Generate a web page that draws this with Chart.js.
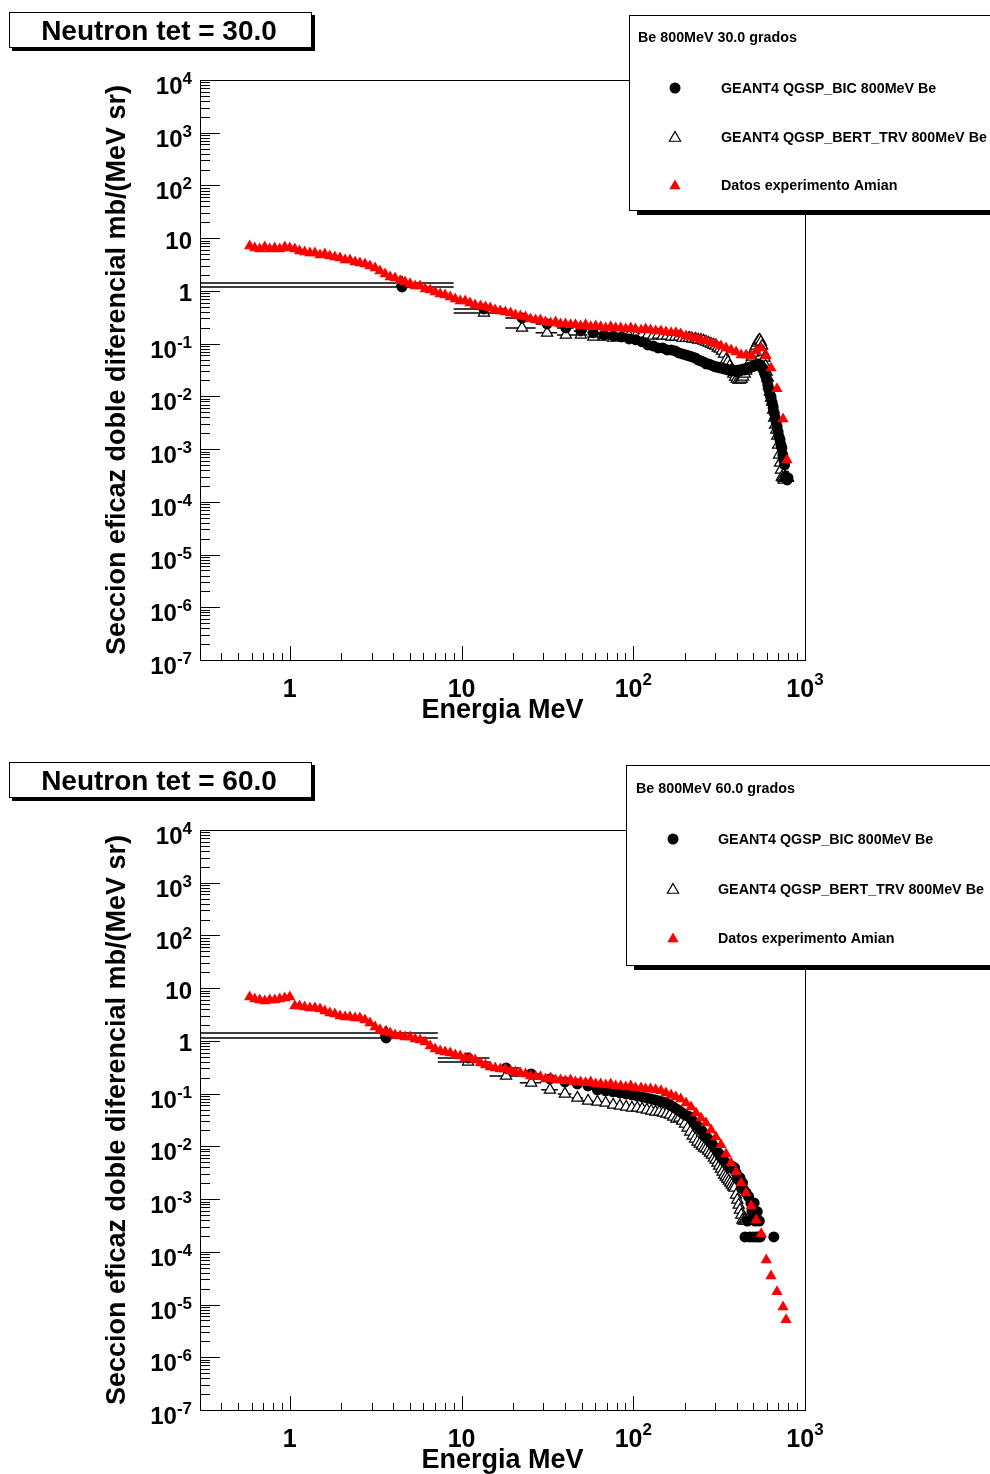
<!DOCTYPE html>
<html>
<head>
<meta charset="utf-8">
<title>Neutron tet</title>
<script src="https://cdn.jsdelivr.net/npm/chart.js@4.4.1/dist/chart.umd.min.js"></script>
<style>
  html, body { margin: 0; padding: 0; background: #fff; }
  canvas { display: block; }
</style>
</head>
<body>
<canvas id="chart-30" width="990" height="750"></canvas>
<canvas id="chart-60" width="990" height="724"></canvas>
<script>
// Amian experimental data, 30 deg (MeV, mb/(MeV sr))
const amianE30 = [0.584, 0.625, 0.668, 0.715, 0.764, 0.817, 0.874, 0.935, 1.0, 1.07, 1.14, 1.22, 1.31, 1.40, 1.50, 1.60, 1.71, 1.83, 1.96, 2.10,
  2.24, 2.40, 2.56, 2.74, 2.93, 3.14, 3.35, 3.59, 3.84, 4.10, 4.39, 4.69, 5.02, 5.37, 5.74, 6.14, 6.57, 7.02, 7.51, 8.03,
  8.59, 9.19, 9.83, 10.5, 11.2, 12.0, 12.9, 13.8, 14.7, 15.7, 16.8, 18.0, 19.3, 20.6, 22.0, 23.6, 25.2, 27.0, 28.8, 30.8,
  33.0, 35.3, 37.7, 40.3, 43.1, 46.1, 49.3, 52.8, 56.5, 60.4, 64.6, 69.1, 73.9, 79.0, 84.5, 90.4, 96.7, 103, 111, 118,
  126, 135, 145, 155, 166, 177, 189, 203, 217, 232, 248, 265, 284, 303, 324, 347, 371, 397, 425, 454,
  486, 520, 556, 595, 634, 687, 745, 786];
const amian30 = [7.14, 6.54, 6.26, 6.83, 6.26, 6.54, 6.26, 6.83, 6.54, 6.26, 5.74, 5.49, 5.26, 5.26, 4.82, 5.03, 4.61, 4.41, 4.23, 3.87,
  3.87, 3.55, 3.40, 3.25, 2.98, 2.73, 2.39, 2.10, 1.84, 1.76, 1.55, 1.48, 1.36, 1.24, 1.24, 1.09, 1.04, 0.957, 0.877, 0.840,
  0.770, 0.705, 0.646, 0.646, 0.592, 0.543, 0.519, 0.497, 0.476, 0.436, 0.418, 0.400, 0.383, 0.351, 0.336, 0.321, 0.294, 0.282, 0.282, 0.258,
  0.247, 0.258, 0.237, 0.237, 0.227, 0.227, 0.217, 0.227, 0.208, 0.217, 0.208, 0.199, 0.208, 0.199, 0.199, 0.190, 0.199, 0.190, 0.182, 0.190,
  0.182, 0.174, 0.174, 0.167, 0.160, 0.160, 0.153, 0.140, 0.134, 0.128, 0.118, 0.113, 0.103, 0.0988, 0.0906, 0.0830, 0.0760, 0.0697, 0.0611, 0.0611,
  0.0585, 0.0728, 0.0830, 0.0585, 0.0346, 0.0139, 0.00374, 0.000623];

// Amian experimental data, 60 deg
const amianE60 = [0.584, 0.625, 0.668, 0.715, 0.764, 0.817, 0.874, 0.935, 1.0, 1.07, 1.14, 1.22, 1.31, 1.40, 1.50, 1.60, 1.71, 1.83, 1.96, 2.10,
  2.24, 2.40, 2.56, 2.74, 2.93, 3.14, 3.35, 3.59, 3.84, 4.10, 4.39, 4.69, 5.02, 5.37, 5.74, 6.14, 6.57, 7.02, 7.51, 8.03,
  8.59, 9.19, 9.83, 10.5, 11.2, 12.0, 12.9, 13.8, 14.7, 15.7, 16.8, 18.0, 19.3, 20.6, 22.0, 23.6, 25.2, 27.0, 28.8, 30.8,
  33.0, 35.3, 37.7, 40.3, 43.1, 46.1, 49.3, 52.8, 56.5, 60.4, 64.6, 69.1, 73.9, 79.0, 84.5, 90.4, 96.7, 103, 111, 118,
  126, 135, 145, 155, 166, 177, 189, 203, 217, 232, 248, 265, 284, 303, 324, 347, 371, 397, 425, 454,
  486, 520, 556, 595, 634, 687, 745, 776];
const amian60 = [6.83, 6.26, 5.99, 5.74, 5.99, 5.99, 6.26, 6.54, 6.83, 4.61, 4.61, 4.41, 4.23, 4.23, 4.05, 3.71, 3.40, 3.25, 2.98, 2.85,
  2.85, 2.73, 2.73, 2.50, 2.19, 1.84, 1.62, 1.48, 1.42, 1.30, 1.24, 1.19, 1.19, 1.09, 1.04, 0.957, 0.804, 0.705, 0.646, 0.618,
  0.592, 0.543, 0.519, 0.476, 0.476, 0.436, 0.383, 0.351, 0.321, 0.308, 0.294, 0.294, 0.270, 0.258, 0.247, 0.237, 0.217, 0.208, 0.208, 0.190,
  0.199, 0.182, 0.182, 0.174, 0.182, 0.167, 0.167, 0.160, 0.167, 0.153, 0.153, 0.146, 0.153, 0.140, 0.140, 0.134, 0.140, 0.128, 0.128, 0.123,
  0.123, 0.118, 0.113, 0.103, 0.0946, 0.0867, 0.0794, 0.0667, 0.0560, 0.0431, 0.0346, 0.0278, 0.0205, 0.0151, 0.0107, 0.00720, 0.00486, 0.00328, 0.00203, 0.00131,
  0.000743, 0.000403, 0.000219, 0.0000703, 0.0000349, 0.0000174, 0.00000902, 0.00000512];

// GEANT4 histogram bin centres and half widths
const binHalf30 = 4.5;
const simE30 = [4.5, 13.5, 22.5, 31.5, 40.5, 49.5, 58.5, 67.5, 76.5, 85.5, 94.5, 103.5, 112.5, 121.5, 130.5, 139.5, 148.5, 157.5, 166.5, 175.5,
  184.5, 193.5, 202.5, 211.5, 220.5, 229.5, 238.5, 247.5, 256.5, 265.5, 274.5, 283.5, 292.5, 301.5, 310.5, 319.5, 328.5, 337.5, 346.5, 355.5,
  364.5, 373.5, 382.5, 391.5, 400.5, 409.5, 418.5, 427.5, 436.5, 445.5, 454.5, 463.5, 472.5, 481.5, 490.5, 499.5, 508.5, 517.5, 526.5, 535.5,
  544.5, 553.5, 562.5, 571.5, 580.5, 589.5, 598.5, 607.5, 616.5, 625.5, 634.5, 643.5, 652.5, 661.5, 670.5, 679.5, 688.5, 697.5, 706.5, 715.5,
  724.5, 733.5, 742.5, 751.5, 760.5, 769.5, 778.5, 787.5, 796.5];
const bic30 = [1.19, 0.456, 0.308, 0.237, 0.199, 0.174, 0.160, 0.146, 0.140, 0.134,
  0.123, 0.118, 0.108, 0.0946, 0.0906, 0.0830, 0.0830, 0.0760, 0.0760, 0.0728,
  0.0667, 0.0638, 0.0611, 0.0585, 0.0560, 0.0536, 0.0491, 0.0470, 0.0450, 0.0412,
  0.0412, 0.0395, 0.0378, 0.0362, 0.0362, 0.0346, 0.0346, 0.0332, 0.0332, 0.0317,
  0.0317, 0.0304, 0.0317, 0.0304, 0.0291, 0.0317, 0.0304, 0.0317, 0.0332, 0.0317,
  0.0332, 0.0346, 0.0346, 0.0362, 0.0362, 0.0378, 0.0378, 0.0395, 0.0395, 0.0412,
  0.0395, 0.0378, 0.0346, 0.0317, 0.0278, 0.0244, 0.0205, 0.0165, 0.0133, 0.0107,
  0.00935, 0.00752, 0.00605, 0.00486, 0.00391, 0.00328, 0.00264, 0.00212, 0.00170, 0.00149,
  0.00120, 0.00105, 0.000775, 0.000623, 0.000501, 0.000284, 0.000284, 0.000260, 0.000284];
const bert30 = [1.42, 0.383, 0.199, 0.160, 0.146, 0.146, 0.134, 0.134, 0.128, 0.134,
  0.140, 0.140, 0.146, 0.146, 0.140, 0.146, 0.140, 0.140, 0.134, 0.134,
  0.134, 0.128, 0.128, 0.128, 0.123, 0.123, 0.118, 0.118, 0.113, 0.108,
  0.103, 0.0988, 0.0946, 0.0906, 0.0830, 0.0794, 0.0728, 0.0638, 0.0491, 0.0450,
  0.0378, 0.0317, 0.0266, 0.0234, 0.0214, 0.0205, 0.0205, 0.0214, 0.0234, 0.0266,
  0.0304, 0.0346, 0.0395, 0.0470, 0.0560, 0.0667, 0.0794, 0.0906, 0.103, 0.113,
  0.118, 0.108, 0.0906, 0.0697, 0.0536, 0.0378, 0.0291, 0.0224, 0.0158, 0.0122,
  0.00935, 0.00786, 0.00554, 0.00391, 0.00288, 0.00231, 0.00178, 0.00120, 0.000775, 0.000546,
  0.000403, 0.000296, 0.000284, 0.000260, 0.000284, 0.000284, 0.000284, 0.000284, 0.000284];

const binHalf60 = 3.636;
const simE60 = [3.64, 10.91, 18.18, 25.45, 32.73, 40.0, 47.27, 54.55, 61.82, 69.09, 76.36, 83.64, 90.91, 98.18, 105.45, 112.73, 120.0, 127.27, 134.55, 141.82,
  149.09, 156.36, 163.64, 170.91, 178.18, 185.45, 192.73, 200.0, 207.27, 214.55, 221.82, 229.09, 236.36, 243.64, 250.91, 258.18, 265.45, 272.73, 280.0, 287.27,
  294.55, 301.82, 309.09, 316.36, 323.64, 330.91, 338.18, 345.45, 352.73, 360.0, 367.27, 374.55, 381.82, 389.09, 396.36, 403.64, 410.91, 418.18, 425.45, 432.73,
  440.0, 447.27, 454.55, 461.82, 469.09, 476.36, 483.64, 490.91, 498.18, 505.45, 512.73, 520.0, 527.27, 534.55, 541.82, 549.09, 556.36, 563.64, 570.91, 578.18,
  585.45, 592.73, 600.0, 607.27, 614.55, 621.82, 629.09, 636.36, 643.64, 650.91, 658.18];
const bic60 = [1.14, 0.476, 0.308, 0.237, 0.190, 0.167, 0.153, 0.140, 0.118, 0.113,
  0.108, 0.103, 0.0988, 0.0946, 0.0906, 0.0867, 0.0830, 0.0794, 0.0760, 0.0728,
  0.0697, 0.0667, 0.0611, 0.0560, 0.0513, 0.0470, 0.0431, 0.0395, 0.0378, 0.0362,
  0.0304, 0.0278, 0.0244, 0.0214, 0.0196, 0.0172, 0.0151, 0.0139, 0.0122, 0.0111,
  0.00977, 0.00895, 0.00786, 0.00720, 0.00632, 0.00579, 0.00530, 0.00486, 0.00445, 0.00408,
  0.00391, 0.00426, 0.00374, 0.00391, 0.00314, 0.00276, 0.00231, 0.00253, 0.00178, 0.00203,
  0.00149, 0.000192, 0.00131, 0.000384, 0.00112, 0.000192, 0.000846, 0.000575, 0.000192, 0.000846,
  0.000384, 0.000192, 0.000575, 0.000192, 0.000384, 0.000192,
  null, null, null, null, null, null, null, null, null, null, null, null, null, null,
  0.000192];
const bert60 = [1.42, 0.400, 0.217, 0.160, 0.118, 0.0988, 0.0830, 0.0728, 0.0697, 0.0667,
  0.0611, 0.0585, 0.0560, 0.0536, 0.0536, 0.0513, 0.0491, 0.0470, 0.0450, 0.0450,
  0.0431, 0.0412, 0.0395, 0.0362, 0.0332, 0.0346, 0.0304, 0.0266, 0.0224, 0.0188,
  0.0158, 0.0139, 0.0122, 0.0111, 0.0102, 0.00935, 0.00895, 0.00821, 0.00752, 0.00689,
  0.00605, 0.00554, 0.00486, 0.00426, 0.00374, 0.00328, 0.00288, 0.00264, 0.00242, 0.00222,
  0.00203, 0.00186, 0.00170, 0.00163, 0.00120, 0.000965, 0.000775, 0.000623, 0.000501, 0.000403,
  0.000384, 0.000403, 0.000384];

const xTickLabels = [[1, '1', ''], [10, '10', ''], [100, '10', '2'], [1000, '10', '3']];
const yTickLabels = [[1e4, '10', '4'], [1e3, '10', '3'], [1e2, '10', '2'], [10, '10', ''], [1, '1', ''],
  [1e-1, '10', '-1'], [1e-2, '10', '-2'], [1e-3, '10', '-3'], [1e-4, '10', '-4'], [1e-5, '10', '-5'], [1e-6, '10', '-6'], [1e-7, '10', '-7']];

const FONT = '"Liberation Sans", Arial, Helvetica, sans-serif';

const panels = [
  { id: 'chart-30', height: 750, title: 'Neutron tet = 30.0', header: 'Be 800MeV 30.0 grados',
    amianE: amianE30, amian: amian30, simE: simE30, bic: bic30, bert: bert30, half: binHalf30,
    legend: { x: 629, y: 15, h: 195, hx: 638, hy: 37, mx: 675, tx: 721, rows: [88, 137, 185] } },
  { id: 'chart-60', height: 724, title: 'Neutron tet = 60.0', header: 'Be 800MeV 60.0 grados',
    amianE: amianE60, amian: amian60, simE: simE60, bic: bic60, bert: bert60, half: binHalf60,
    legend: { x: 626, y: 15, h: 200, hx: 636, hy: 38, mx: 673, tx: 718, rows: [89, 139, 188] } }
];

const toPoints = (xs, ys) => {
  let pts = [];
  for (var i = 0; i < ys.length; i++) {
    if (ys[i] != null) pts.push({ x: xs[i], y: ys[i] });
  }
  return pts;
}

const drawPow = (ctx, base, exp, x, y, align, size, expSize, raise) => {
  ctx.font = 'bold ' + size + 'px ' + FONT;
  const wb = ctx.measureText(base).width;
  let we = 0;
  if (exp) {
    ctx.font = 'bold ' + expSize + 'px ' + FONT;
    we = ctx.measureText(exp).width;
  }
  const total = wb + we;
  const x0 = align === 'right' ? x - total : (align === 'center' ? x - total / 2 : x);
  ctx.textAlign = 'left';
  ctx.textBaseline = 'alphabetic';
  ctx.font = 'bold ' + size + 'px ' + FONT;
  ctx.fillText(base, x0, y);
  if (exp) {
    ctx.font = 'bold ' + expSize + 'px ' + FONT;
    ctx.fillText(exp, x0 + wb, y - raise);
  }
}

const drawMarker = (ctx, style, x, y, r, fill, stroke) => {
  ctx.beginPath();
  if (style === 'circle') {
    ctx.arc(x, y, r, 0, Math.PI * 2);
  } else {
    ctx.moveTo(x, y - r);
    ctx.lineTo(x + Math.sin(2 * Math.PI / 3) * r, y + r / 2);
    ctx.lineTo(x - Math.sin(2 * Math.PI / 3) * r, y + r / 2);
    ctx.closePath();
  }
  ctx.fillStyle = fill;
  ctx.fill();
  if (stroke) {
    ctx.strokeStyle = stroke;
    ctx.lineWidth = 1.2;
    ctx.stroke();
  }
}

const makeChart = (p) => {
  const deco = {
    id: 'deco',
    beforeDatasetsDraw(chart) {
      // horizontal error bars (bin widths) of the GEANT4 histograms
      const { ctx, chartArea: a, scales: { x, y } } = chart;
      ctx.save();
      ctx.strokeStyle = '#000';
      ctx.lineWidth = 1.5;
      ctx.beginPath();
      [p.bic, p.bert].forEach(vals => {
        vals.forEach((v, i) => {
          if (v == null) return;
          const py = y.getPixelForValue(v);
          const lo = p.simE[i] - p.half;
          const x1 = lo > x.min ? x.getPixelForValue(lo) : a.left;
          const x2 = Math.min(a.right, x.getPixelForValue(p.simE[i] + p.half));
          ctx.moveTo(x1, py);
          ctx.lineTo(x2, py);
        });
      });
      ctx.stroke();
      ctx.restore();
    },
    afterDraw(chart) {
      const { ctx, chartArea: a, scales: { x, y } } = chart;
      ctx.save();
      ctx.strokeStyle = '#000';
      ctx.fillStyle = '#000';
      ctx.lineWidth = 1;
      ctx.strokeRect(a.left + 0.5, a.top + 0.5, a.right - a.left, a.bottom - a.top);

      // ticks, pointing inward
      ctx.beginPath();
      for (let e = -7; e <= 4; e++) {
        for (let m = 1; m <= 9; m++) {
          const v = m * Math.pow(10, e);
          if (v < y.min * 0.999 || v > y.max * 1.001) continue;
          const py = Math.round(y.getPixelForValue(v)) + 0.5;
          ctx.moveTo(a.left, py);
          ctx.lineTo(a.left + (m === 1 ? 20 : 10), py);
        }
      }
      for (let e = -1; e <= 3; e++) {
        for (let m = 1; m <= 9; m++) {
          const v = m * Math.pow(10, e);
          if (v < x.min * 0.999 || v > x.max * 1.001) continue;
          const px = Math.round(x.getPixelForValue(v)) + 0.5;
          ctx.moveTo(px, a.bottom);
          ctx.lineTo(px, a.bottom - (m === 1 ? 14 : 7));
        }
      }
      ctx.stroke();

      // tick labels
      ctx.fillStyle = '#000';
      yTickLabels.forEach(([v, base, exp]) => {
        const py = y.getPixelForValue(v);
        drawPow(ctx, base, exp, a.left - 8, py + (exp ? 14 : 10.5), 'right', 24, 17, 10);
      });
      xTickLabels.forEach(([v, base, exp]) => {
        const px = x.getPixelForValue(v);
        drawPow(ctx, base, exp, px, a.bottom + 37, 'center', 25, 17, 12);
      });

      // axis titles
      ctx.font = 'bold 27px ' + FONT;
      ctx.textAlign = 'center';
      ctx.textBaseline = 'alphabetic';
      ctx.fillText('Energia MeV', (a.left + a.right) / 2, a.bottom + 58);
      ctx.save();
      ctx.translate(125, (a.top + a.bottom) / 2);
      ctx.rotate(-Math.PI / 2);
      ctx.fillText('Seccion eficaz doble diferencial mb/(MeV sr)', 0, 0);
      ctx.restore();

      // title box
      ctx.fillStyle = '#000';
      ctx.fillRect(12, 15, 303, 36);
      ctx.fillStyle = '#fff';
      ctx.fillRect(9, 12, 303, 36);
      ctx.strokeRect(9.5, 12.5, 302, 35);
      ctx.fillStyle = '#000';
      ctx.font = 'bold 28px ' + FONT;
      ctx.textAlign = 'center';
      ctx.fillText(p.title, 159, 40);

      // legend
      const L = p.legend;
      ctx.fillStyle = '#000';
      ctx.fillRect(L.x + 8, L.y + L.h, 990, 5);
      ctx.fillStyle = '#fff';
      ctx.fillRect(L.x, L.y, 1000, L.h);
      ctx.strokeRect(L.x + 0.5, L.y + 0.5, 1000, L.h);
      ctx.fillStyle = '#000';
      ctx.textAlign = 'left';
      ctx.font = 'bold 14.3px ' + FONT;
      ctx.fillText(p.header, L.hx, L.hy + 5);
      const entries = [
        ['circle', '#000', null, 'GEANT4 QGSP_BIC 800MeV Be'],
        ['triangle', '#fff', '#000', 'GEANT4 QGSP_BERT_TRV 800MeV Be'],
        ['triangle', '#ff0000', null, 'Datos experimento Amian']
      ];
      entries.forEach(([style, fill, stroke, label], i) => {
        const my = L.rows[i];
        drawMarker(ctx, style, L.mx, style === 'circle' ? my : my + 1, style === 'circle' ? 5.5 : 6.5, fill, stroke);
        ctx.fillStyle = '#000';
        ctx.font = 'bold 14.3px ' + FONT;
        ctx.fillText(label, L.tx, my + 5);
      });
      ctx.restore();
    }
  };

  new Chart(p.id, {
    type: 'scatter',
    data: {
      datasets: [
        {
          label: 'Datos experimento Amian',
          data: toPoints(p.amianE, p.amian),
          pointStyle: 'triangle',
          pointRadius: 6.5,
          backgroundColor: '#ff0000',
          borderColor: '#ff0000',
          borderWidth: 0,
        },
        {
          label: 'GEANT4 QGSP_BIC 800MeV Be',
          data: toPoints(p.simE, p.bic),
          pointStyle: 'circle',
          pointRadius: 5.5,
          backgroundColor: '#000000',
          borderColor: '#000000',
          borderWidth: 0,
        },
        {
          label: 'GEANT4 QGSP_BERT_TRV 800MeV Be',
          data: toPoints(p.simE, p.bert),
          pointStyle: 'triangle',
          pointRadius: 6.5,
          backgroundColor: '#ffffff',
          borderColor: '#000000',
          borderWidth: 1.2,
        },
      ],
    },
    options: {
      responsive: false,
      animation: false,
      events: [],
      layout: {
        padding: { left: 200, top: 80, right: 185, bottom: p.height - 660 }
      },
      scales: {
        x: { type: 'logarithmic', min: 0.3, max: 1000, display: false },
        y: { type: 'logarithmic', min: 1e-7, max: 1e4, display: false },
      },
      plugins: {
        legend: { display: false },
        title: { display: false },
        tooltip: { enabled: false },
      },
    },
    plugins: [deco],
  });
}

panels.forEach(makeChart);
</script>
</body>
</html>
